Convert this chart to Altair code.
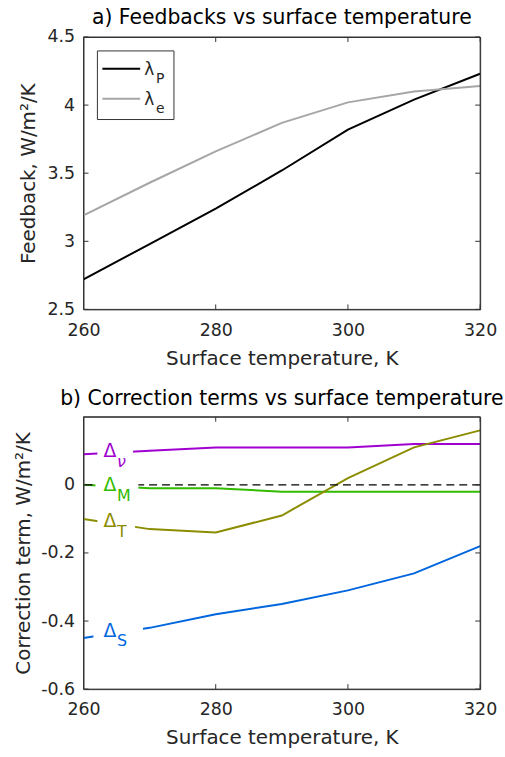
import altair as alt
import pandas as pd

# ---------------- data ----------------
temps = [260, 270, 280, 290, 300, 310, 320]
lambda_p = [2.72, 2.98, 3.24, 3.52, 3.82, 4.04, 4.23]
lambda_e = [3.19, 3.43, 3.66, 3.87, 4.02, 4.10, 4.14]

delta_nu = [0.09, 0.10, 0.11, 0.11, 0.11, 0.12, 0.12]
delta_m = [0.00, -0.01, -0.01, -0.02, -0.02, -0.02, -0.02]
delta_t = [-0.10, -0.13, -0.14, -0.09, 0.02, 0.11, 0.16]
delta_s = [-0.45, -0.42, -0.38, -0.35, -0.31, -0.26, -0.18]

x_ticks = [260, 280, 300, 320]
y_ticks_a = [2.5, 3, 3.5, 4, 4.5]
y_ticks_b = [-0.6, -0.4, -0.2, 0]

term_keys = ["nu", "M", "T", "S"]
term_subs = ["ν", "M", "T", "S"]
term_colors = ["#a000d0", "#33bb00", "#8c8c00", "#0066dd"]
label_x = [264.0, 264.0, 264.0, 264.0]
label_y = [0.10, 0.0, -0.107, -0.428]
label_gap_start = [262.1, 261.8, 262.1, 261.5]
label_gap_end = [267.5, 268.3, 267.8, 269.0]

legend_keys = ["P", "e"]
legend_colors = ["#000000", "#a6a6a6"]

# ---------------- style ----------------
W, H = 399, 274
FONT = "DejaVu Sans"
AX = "#262626"
FRAME = "#333333"
TICK_LEN = 5

x_scale = alt.Scale(domain=[260, 320], nice=False, zero=False)
X_AXIS = alt.Axis(values=x_ticks, title="Surface temperature, K", labelPadding=12, labelFlush=False,
                  labelExpr="'' + datum.value", titleY=55, titleBaseline="alphabetic")

ya_scale = alt.Scale(domain=[2.5, 4.5], nice=False, zero=False)
YA_AXIS = alt.Axis(values=y_ticks_a, title="Feedback, W/m²/K", labelPadding=9, labelFlush=False,
                   labelExpr="'' + datum.value", titleX=-49, titleBaseline="alphabetic")

yb_scale = alt.Scale(domain=[-0.6, 0.2], nice=False, zero=False)
YB_AXIS = alt.Axis(values=y_ticks_b, title="Correction term, W/m²/K", labelPadding=9, labelFlush=False,
                   labelExpr="'' + datum.value", titleX=-54, titleBaseline="alphabetic")

one = pd.DataFrame({"k": [0]})


def frame_and_ticks(yvals, ysc):
    xs = pd.DataFrame({"T": x_ticks})
    ys = pd.DataFrame({"val": yvals})
    bot = alt.Chart(xs).mark_rule(color=FRAME, strokeWidth=1).encode(
        x=alt.X("T:Q", scale=x_scale, axis=None), y=alt.value(H), y2=alt.value(H - TICK_LEN))
    top = alt.Chart(xs).mark_rule(color=FRAME, strokeWidth=1).encode(
        x=alt.X("T:Q", scale=x_scale, axis=None), y=alt.value(0), y2=alt.value(TICK_LEN))
    left = alt.Chart(ys).mark_rule(color=FRAME, strokeWidth=1).encode(
        y=alt.Y("val:Q", scale=ysc, axis=None), x=alt.value(0), x2=alt.value(TICK_LEN))
    right = alt.Chart(ys).mark_rule(color=FRAME, strokeWidth=1).encode(
        y=alt.Y("val:Q", scale=ysc, axis=None), x=alt.value(W), x2=alt.value(W - TICK_LEN))
    box = alt.Chart(one).mark_rect(fillOpacity=0, stroke=FRAME, strokeWidth=1).encode(
        x=alt.value(0), x2=alt.value(W), y=alt.value(0), y2=alt.value(H))
    return [bot, top, left, right, box]


# ---------------- panel a ----------------
df_a = pd.DataFrame({
    "T": temps * 2,
    "val": lambda_p + lambda_e,
    "series": ["P"] * len(temps) + ["e"] * len(temps),
})

lines_a = alt.Chart(df_a).mark_line(strokeWidth=2).encode(
    x=alt.X("T:Q", scale=x_scale, axis=X_AXIS),
    y=alt.Y("val:Q", scale=ya_scale, axis=YA_AXIS),
    color=alt.Color("series:N", scale=alt.Scale(domain=legend_keys, range=legend_colors), legend=None),
)

leg_box = alt.Chart(one).mark_rect(fill="white", stroke=FRAME, strokeWidth=1).encode(
    x=alt.value(14), x2=alt.value(91), y=alt.value(14), y2=alt.value(83))
leg_line_p = alt.Chart(one).mark_rule(color=legend_colors[0], strokeWidth=2).encode(
    x=alt.value(19), x2=alt.value(57), y=alt.value(32))
leg_line_e = alt.Chart(one).mark_rule(color=legend_colors[1], strokeWidth=2).encode(
    x=alt.value(19), x2=alt.value(57), y=alt.value(62))
leg_lam = []
for key, yy in zip(legend_keys, [32, 62]):
    leg_lam.append(alt.Chart(one).mark_text(text="λ", font=FONT, fontSize=17, color=AX,
                                            align="left", baseline="alphabetic").encode(
        x=alt.value(61), y=alt.value(yy + 6)))
    leg_lam.append(alt.Chart(one).mark_text(text=key, font=FONT, fontSize=14, color=AX,
                                            align="left", baseline="alphabetic").encode(
        x=alt.value(73), y=alt.value(yy + 14)))

panel_a = alt.layer(
    lines_a, leg_box, leg_line_p, leg_line_e, *leg_lam,
    *frame_and_ticks(y_ticks_a, ya_scale),
).resolve_axis(x="independent", y="independent").properties(
    width=W, height=H,
    title=alt.TitleParams("a) Feedbacks vs surface temperature", font=FONT, fontSize=20.5,
                          fontWeight="normal", color="black", anchor="middle", frame="group",
                          baseline="alphabetic", offset=-16),
)

# ---------------- panel b ----------------
df_b = pd.DataFrame({
    "T": temps * 4,
    "val": delta_nu + delta_m + delta_t + delta_s,
    "term": sum([[k] * len(temps) for k in term_keys], []),
})
df_lab = pd.DataFrame({
    "term": term_keys, "sub": term_subs, "T": label_x, "val": label_y,
    "g0": label_gap_start, "g1": label_gap_end,
})
df_lab["ly0"] = df_lab["val"] - 0.035
df_lab["ly1"] = df_lab["val"] + 0.035

col_scale = alt.Scale(domain=term_keys, range=term_colors)

zero_line = alt.Chart(pd.DataFrame({"val": [0.0]})).mark_rule(
    color="black", strokeWidth=1.2, strokeDash=[8, 5]).encode(
    y=alt.Y("val:Q", scale=yb_scale, axis=None))

lines_b = alt.Chart(df_b).mark_line(strokeWidth=2).encode(
    x=alt.X("T:Q", scale=x_scale, axis=X_AXIS),
    y=alt.Y("val:Q", scale=yb_scale, axis=YB_AXIS),
    color=alt.Color("term:N", scale=col_scale, legend=None),
)

lab_bg = alt.Chart(df_lab).mark_rect(fill="white").encode(
    x=alt.X("g0:Q", scale=x_scale, axis=None), x2="g1:Q",
    y=alt.Y("ly0:Q", scale=yb_scale, axis=None), y2="ly1:Q")

lab_delta = alt.Chart(df_lab).mark_text(text="Δ", font=FONT, fontSize=19, align="center",
                                        baseline="middle").encode(
    x=alt.X("T:Q", scale=x_scale, axis=None),
    y=alt.Y("val:Q", scale=yb_scale, axis=None),
    color=alt.Color("term:N", scale=col_scale, legend=None))

lab_sub = alt.Chart(df_lab).mark_text(font=FONT, fontSize=16, align="left", baseline="middle",
                                      dx=7, dy=11).encode(
    x=alt.X("T:Q", scale=x_scale, axis=None),
    y=alt.Y("val:Q", scale=yb_scale, axis=None),
    text="sub:N",
    color=alt.Color("term:N", scale=col_scale, legend=None),
).transform_filter("datum.term != 'nu'")

lab_sub_nu = alt.Chart(df_lab).mark_text(font=FONT, fontSize=16, fontStyle="italic", align="left",
                                         baseline="middle", dx=7, dy=11).encode(
    x=alt.X("T:Q", scale=x_scale, axis=None),
    y=alt.Y("val:Q", scale=yb_scale, axis=None),
    text="sub:N",
    color=alt.Color("term:N", scale=col_scale, legend=None),
).transform_filter("datum.term == 'nu'")

panel_b = alt.layer(
    lines_b, zero_line, lab_bg, lab_delta, lab_sub, lab_sub_nu,
    *frame_and_ticks(y_ticks_b, yb_scale),
).resolve_axis(x="independent", y="independent").properties(
    width=W, height=H,
    title=alt.TitleParams("b) Correction terms vs surface temperature", font=FONT, fontSize=20.5,
                          fontWeight="normal", color="black", anchor="middle", frame="group",
                          baseline="alphabetic", offset=-9),
)

chart = alt.vconcat(panel_a, panel_b, spacing=19).resolve_scale(
    color="independent",
).properties(
    padding={"left": 13, "top": 5, "right": 0, "bottom": 0},
).configure_view(
    stroke=FRAME, strokeWidth=1,
).configure_axis(
    domain=False, ticks=False, grid=False,
    labelFont=FONT, labelFontSize=17.5, labelColor=AX,
    titleFont=FONT, titleFontSize=20, titleFontWeight="normal", titleColor=AX,
)

chart.save("out.html", embed_options={"renderer": "svg", "actions": False})
